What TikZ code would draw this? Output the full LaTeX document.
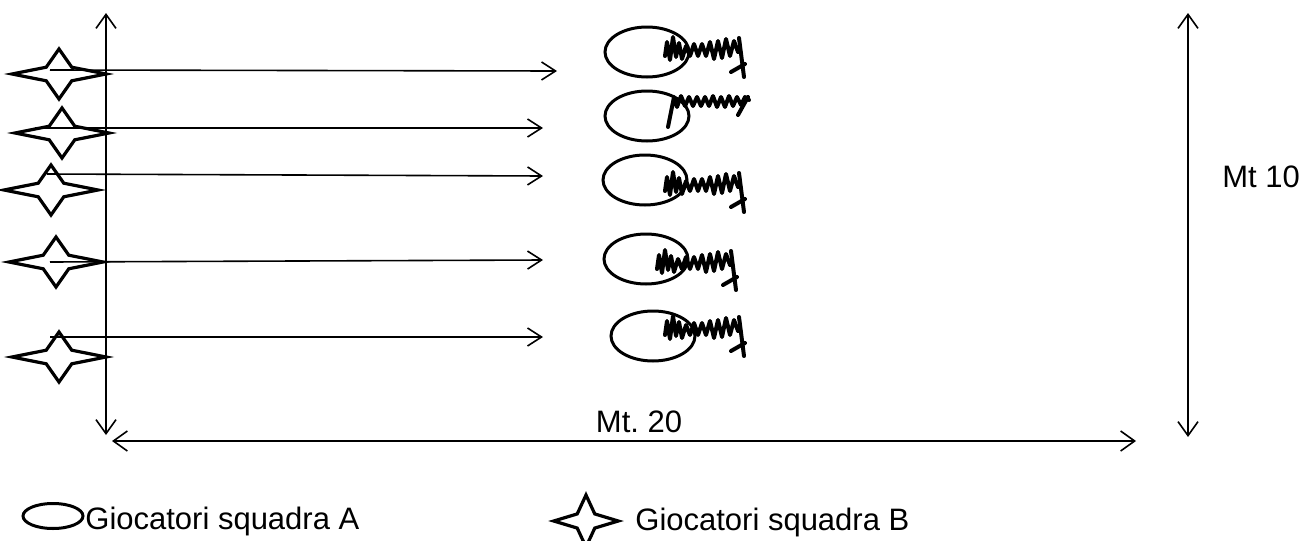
\documentclass[tikz,border=0pt]{standalone}
\usepackage{fontspec}
\setmainfont{Liberation Sans}
\usetikzlibrary{positioning,shapes.geometric,arrows.meta,calc}
\tikzset{
  scrawl/.pic={
    \draw[line width=2pt, line join=round, line cap=round]
      (-3,6) -- (-1,-8) -- (2,10) -- (5,-13) -- (8,7) -- (11,-7) -- (14,9) -- (18,-4)
      -- (22,6) -- (26,-6) -- (30,6) -- (34,-6) -- (38,6) -- (42,-8) -- (46,9)
      -- (50,-9) -- (54,8) -- (58,-11) -- (62,6) -- (66,-9) -- (70,2);
    \draw[line width=2pt, line cap=round] (71,-12) -- (76,27);
    \draw[line width=2pt, line cap=round] (63,22) -- (77,14);
  },
  scrawl hook/.pic={
    \draw[line width=2pt, line join=round, line cap=round]
      (-4,24) -- (-2,14) -- (0,4) -- (2,-6) -- (5,4) -- (9,-7) -- (13,3) -- (17,-6)
      -- (21,3) -- (25,-6) -- (29,3) -- (33,-6) -- (37,3) -- (41,-7) -- (45,4)
      -- (49,-6) -- (53,4) -- (57,-7) -- (61,3) -- (65,-6) -- (69,2) -- (73,-6) -- (77,-3);
    \draw[line width=2pt, line cap=round] (76,-6) -- (66,12);
  },
}
\begin{document}
\begin{tikzpicture}[
    x=0.5pt, y=-0.5pt,
    bstar/.style={star, star points=4, star point ratio=2.6, draw, line width=1.6pt,
      minimum size=25pt, inner sep=0pt, xscale=1.88, transform shape},
    apl/.style={ellipse, draw, line width=1.5pt, minimum width=42pt, minimum height=25pt, inner sep=0pt},
    run/.style={-{Straight Barb[length=7pt,width=9pt]}, line width=0.8pt},
    dim/.style={{Straight Barb[length=7pt,width=10pt]}-{Straight Barb[length=7pt,width=10pt]}, line width=0.8pt},
    lbl/.style={font=\fontsize{15.5}{18}\selectfont, inner sep=0pt},
  ]
    \useasboundingbox (0,0) rectangle (1303,541);

    % field
    \coordinate (fieldtop) at (106,13);
    \coordinate (fieldbot) at (106,435);
    \coordinate (lenleft) at (112,441);
    \coordinate (lenright) at (1136,441);
    \coordinate (widtop) at (1188,13);
    \coordinate (widbot) at (1188,437);
    \draw[dim] (fieldtop) -- (fieldbot);
    \draw[dim] (lenleft) -- (lenright);
    \draw[dim] (widtop) -- (widbot);
    \node (len) [lbl, anchor=base] at (639,432) {Mt.\ 20};
    \node (wid) [lbl, anchor=base west] at (1222,187) {Mt 10};

    % team B
    \node (b1) [bstar] at (59,74) {};
    \node (b2) [bstar] at (62,133) {};
    \node (b3) [bstar] at (51,190) {};
    \node (b4) [bstar] at (56,262) {};
    \node (b5) [bstar] at (59,357) {};

    % team A
    \node (a1) [apl] at (647,52) {};
    \node (a2) [apl] at (647,116) {};
    \node (a3) [apl] at (645,180) {};
    \node (a4) [apl] at (646,259) {};
    \node (a5) [apl] at (653,336) {};

    \pic (w1) at (668,50) {scrawl};
    \pic (w2) at (672,103) {scrawl hook};
    \pic (w3) at (668,185) {scrawl};
    \pic (w4) at (660,263) {scrawl};
    \pic (w5) at (668,329) {scrawl};

    % runs
    \coordinate (s1) at (50,70);   \coordinate (e1) at (557,71);
    \coordinate (s2) at (35,128);  \coordinate (e2) at (543,128);
    \coordinate (s3) at (47,174);  \coordinate (e3) at (543,176);
    \coordinate (s4) at (50,262);  \coordinate (e4) at (543,260);
    \coordinate (s5) at (50,337);  \coordinate (e5) at (543,337);
    \draw[run] (s1) -- (e1);
    \draw[run] (s2) -- (e2);
    \draw[run] (s3) -- (e3);
    \draw[run] (s4) -- (e4);
    \draw[run] (s5) -- (e5);

    % legend
    \node (keya) [apl, minimum width=30pt, minimum height=12.5pt] at (53,516) {};
    \node (keyatext) [lbl, anchor=base west] at (85,529) {Giocatori squadra A};
    \node (keyb) [bstar, minimum size=26pt, xscale=0.66] at (586,521) {};
    \node (keybtext) [lbl, anchor=base west] at (635,530) {Giocatori squadra B};
  \end{tikzpicture}
\end{document}
